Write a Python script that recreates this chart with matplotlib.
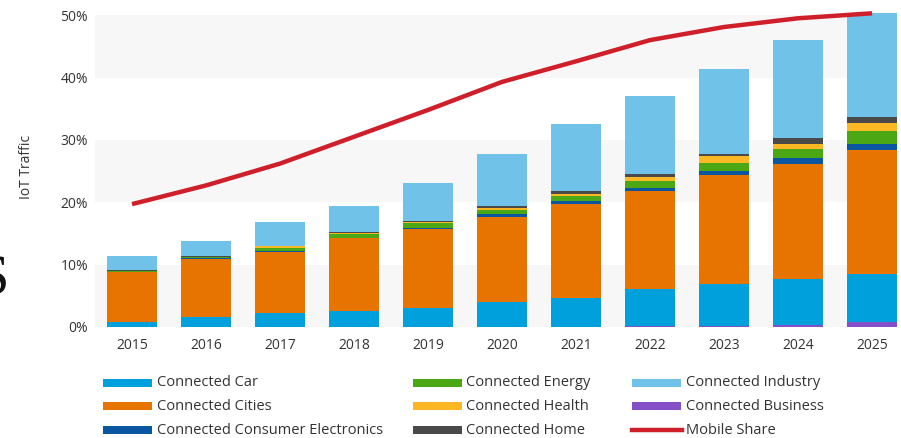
import matplotlib
matplotlib.use("Agg")
import matplotlib.pyplot as plt
from matplotlib.patches import Rectangle
from matplotlib.lines import Line2D
import numpy as np

plt.rcParams['font.family'] = ['Open Sans', 'DejaVu Sans']

years = ["2015", "2016", "2017", "2018", "2019", "2020", "2021", "2022", "2023", "2024", "2025"]

business = [0, 0, 0, 0, 0, 0, 0, 0.1, 0.2, 0.4, 0.8]
car = [0.85, 1.55, 2.2, 2.6, 3.0, 3.95, 4.6, 5.95, 6.65, 7.35, 7.7]
cities = [7.95, 9.4, 9.87, 11.6, 12.75, 13.75, 15.2, 15.8, 17.5, 18.45, 19.9]
consumer_electronics = [0.05, 0.05, 0.1, 0.1, 0.2, 0.43, 0.43, 0.48, 0.69, 0.91, 0.96]
energy = [0.15, 0.2, 0.5, 0.6, 0.65, 0.64, 0.8, 1.12, 1.28, 1.39, 2.08]
health = [0.05, 0.1, 0.25, 0.15, 0.2, 0.27, 0.37, 0.64, 1.07, 0.91, 1.23]
home = [0.05, 0.1, 0.1, 0.15, 0.2, 0.32, 0.43, 0.43, 0.32, 0.96, 1.07]
industry = [2.3, 2.4, 3.8, 4.25, 6.1, 8.4, 10.75, 12.5, 13.7, 15.6, 16.7]
mobile_share = [19.7, 22.7, 26.2, 30.5, 34.8, 39.3, 42.6, 46.0, 48.1, 49.5, 50.3]

yticks = [0, 10, 20, 30, 40, 50]
ytick_labels = ["0%", "10%", "20%", "30%", "40%", "50%"]

C_CAR = "#00a0dc"
C_CITIES = "#e87400"
C_CE = "#0a56a0"
C_ENERGY = "#4ba814"
C_HEALTH = "#fcb824"
C_HOME = "#4a4a4a"
C_INDUSTRY = "#70c2e8"
C_BUSINESS = "#8350c8"
C_MOBILE = "#cf1f2a"

W, H = 901, 438
fig = plt.figure(figsize=(W / 100, H / 100), dpi=100)

def fx(px):
    return px / W

def fy(py):
    return 1 - py / H

ax_left, ax_right, ax_top, ax_bottom = 95, 897, 13.3, 327
ax = fig.add_axes([fx(ax_left), fy(ax_bottom), fx(ax_right - ax_left), (ax_bottom - ax_top) / H])

# background bands
for lo in (0, 20, 40):
    ax.axhspan(lo, lo + 10, color="#f7f7f7", zorder=0, lw=0)

x = np.arange(len(years))
width = 0.676
stack = [
    (business, C_BUSINESS),
    (car, C_CAR),
    (cities, C_CITIES),
    (consumer_electronics, C_CE),
    (energy, C_ENERGY),
    (health, C_HEALTH),
    (home, C_HOME),
    (industry, C_INDUSTRY),
]
bottom = np.zeros(len(years))
for vals, col in stack:
    v = np.array(vals, dtype=float)
    ax.bar(x, v, width, bottom=bottom, color=col, lw=0, zorder=2)
    bottom += v

ax.plot(x, mobile_share, color=C_MOBILE, lw=3.2, zorder=3, clip_on=False,
        solid_capstyle='butt')

ax.set_xlim(-0.5, 10.338)
ax.set_ylim(0, 50.3)
ax.set_xticks(x)
ax.set_xticklabels(years, fontsize=10, color="#333333")
ax.set_yticks(yticks)
ax.set_yticklabels(ytick_labels, fontsize=10, color="#333333")
ax.tick_params(axis='both', length=0)
ax.tick_params(axis='x', pad=8)
ax.tick_params(axis='y', pad=5)
for s in ax.spines.values():
    s.set_visible(False)

fig.text(fx(27), fy(167), "IoT Traffic", rotation=90, ha='center', va='center',
         fontsize=10, color="#333333")

# stray serif S at the left edge
fig.text(fx(9), fy(279), "S", ha='right', va='center', fontsize=42,
         family=['Liberation Serif', 'DejaVu Serif'], color="#111111")

# legend (drawn in figure pixels)
legend_items = [
    ("Connected Car", C_CAR, 103, 157, 383, 'rect'),
    ("Connected Cities", C_CITIES, 103, 157, 406, 'rect'),
    ("Connected Consumer Electronics", C_CE, 103, 157, 430, 'rect'),
    ("Connected Energy", C_ENERGY, 413, 466, 383, 'rect'),
    ("Connected Health", C_HEALTH, 413, 466, 406, 'rect'),
    ("Connected Home", C_HOME, 413, 466, 430, 'rect'),
    ("Connected Industry", C_INDUSTRY, 632, 686, 383, 'rect'),
    ("Connected Business", C_BUSINESS, 632, 686, 406, 'rect'),
    ("Mobile Share", C_MOBILE, 632, 686, 430, 'line'),
]
for label, col, hx, tx, yc, kind in legend_items:
    if kind == 'rect':
        fig.add_artist(Rectangle((fx(hx), fy(yc + 4)), fx(49), 8 / H,
                                 transform=fig.transFigure, color=col, lw=0))
    else:
        fig.add_artist(Line2D([fx(hx), fx(hx + 50)], [fy(yc), fy(yc)],
                              transform=fig.transFigure, color=col, lw=3.2))
    fig.text(fx(tx), fy(yc), label, ha='left', va='center', fontsize=10.5,
             color="#333333")

fig.savefig("out.png", dpi=100)
